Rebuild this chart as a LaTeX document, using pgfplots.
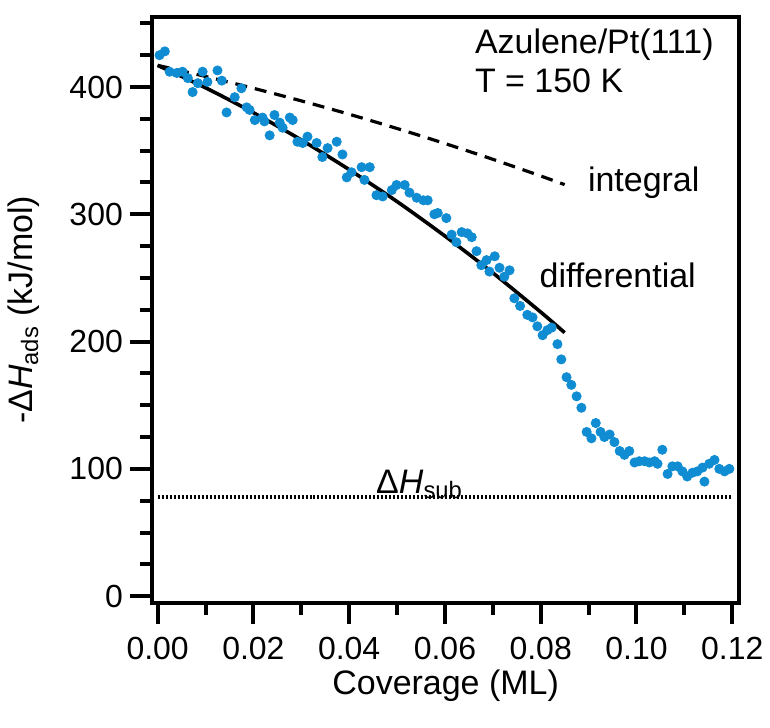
\documentclass[border=0pt]{standalone}
\usepackage{fontspec}
\setmainfont{Liberation Sans}
\usepackage{pgfplots}
\pgfplotsset{compat=1.18}
\definecolor{dotblue}{RGB}{16,140,210}

\pgfplotstableread{
x y
0.0004 425
0.0015 428
0.0025 412
0.0040 411
0.0052 412
0.0063 407
0.0073 396
0.0084 403
0.0094 412
0.0104 404
0.0125 413
0.0134 405
0.0144 380
0.0161 392
0.0175 399
0.0186 384
0.0192 382
0.0203 374
0.0219 376
0.0223 373
0.0234 362
0.0244 378
0.0255 372
0.0261 368
0.0276 376
0.0282 374
0.0292 357
0.0303 356
0.0313 361
0.0332 356
0.0344 345
0.0355 352
0.0374 357
0.0386 347
0.0395 329
0.0405 333
0.0426 337
0.0432 327
0.0443 337
0.0457 315
0.0470 314
0.0489 319
0.0499 323
0.0516 323
0.0526 317
0.0541 313
0.0555 311
0.0564 311
0.0578 300
0.0585 301
0.0603 297
0.0614 284
0.0624 278
0.0635 286
0.0647 285
0.0656 282
0.0666 271
0.0676 260
0.0687 264
0.0693 255
0.0704 267
0.0714 258
0.0724 251
0.0735 256
0.0745 234
0.0757 228
0.0772 221
0.0783 219
0.0793 212
0.0804 205
0.0814 209
0.0823 211
0.0835 198
0.0843 186
0.0854 172
0.0864 166
0.0875 157
0.0885 148
0.0896 129
0.0906 124
0.0915 136
0.0925 129
0.0933 125
0.0944 127
0.0954 121
0.0965 114
0.0975 111
0.0985 114
0.0996 105
0.1006 106
0.1017 106
0.1027 105
0.1038 106
0.1044 104
0.1054 115
0.1065 96
0.1075 102
0.1086 102
0.1096 98
0.1106 94
0.1117 97
0.1127 98
0.1138 101
0.1142 90
0.1152 104
0.1163 107
0.1173 100
0.1184 98
0.1194 100
}\measured

\begin{document}
\begin{tikzpicture}
\begin{axis}[
    scale only axis, width=294pt, height=293pt,
    xmin=-0.0012, xmax=0.1215, ymin=-5, ymax=455,
    axis line style={line width=2pt},
    tick style={line width=2pt, black},
    tick align=outside, xtick pos=bottom, ytick pos=left,
    major tick length=11pt, minor tick length=6pt,
    xtick={0,0.02,...,0.12}, minor xtick={0.01,0.03,...,0.11},
    ytick={0,100,...,400}, minor ytick={25,50,75,125,150,175,225,250,275,325,350,375,425,450},
    xticklabel style={/pgf/number format/.cd, fixed, fixed zerofill, precision=2},
    /pgf/number format/assume math mode=true,
    ticklabel style={font=\fontsize{16}{19}\selectfont},
    label style={font=\fontsize{17}{20}\selectfont},
    xticklabel shift=3pt, yticklabel shift=0pt,
    xlabel={Coverage (ML)}, xlabel shift=-2pt,
    ylabel={-Δ\textit{H}\textsubscript{ads} (kJ/mol)},
    ylabel shift=8pt,
    clip=false,
]
\addplot[only marks, mark=*, mark size=2.3pt, dotblue, mark options={draw=none, fill=dotblue}] table[x=x, y=y] {\measured};
% differential
\addplot[black, line width=1.8pt, smooth] coordinates {
(0,417) (0.01,399.4) (0.02,379.8) (0.03,358.4) (0.04,335.1) (0.05,310.0)
(0.06,282.9) (0.07,254.0) (0.08,223.2) (0.085,207.0)};
% integral
\addplot[black, line width=1.6pt, dash pattern=on 6pt off 4pt, smooth] coordinates {
(0,417) (0.01,408.3) (0.02,399.0) (0.03,389.1) (0.04,378.6) (0.05,367.4)
(0.06,355.6) (0.07,343.2) (0.08,330.1) (0.085,323.3)};
% sublimation
\addplot[black, line width=2pt, dash pattern=on 1pt off 1pt] coordinates {(0,78) (0.12,78)};

\node[anchor=west, font=\fontsize{17}{20}\selectfont, inner sep=0pt] at (axis cs:0.0662,433) {Azulene/Pt(111)};
\node[anchor=west, font=\fontsize{17}{20}\selectfont, inner sep=0pt] at (axis cs:0.0662,405) {T = 150 K};
\node[anchor=west, font=\fontsize{17}{20}\selectfont, inner sep=0pt] at (axis cs:0.0898,325) {integral};
\node[anchor=west, font=\fontsize{17}{20}\selectfont, inner sep=0pt] at (axis cs:0.0797,252) {differential};
\node[font=\fontsize{17}{20}\selectfont, inner sep=0pt] at (axis cs:0.0547,88) {Δ\textit{H}\textsubscript{sub}};
\end{axis}
\path (current axis.south west)+(-76pt,-62.5pt) rectangle ([shift={(15pt,8.5pt)}]current axis.north east);
\end{tikzpicture}
\end{document}
